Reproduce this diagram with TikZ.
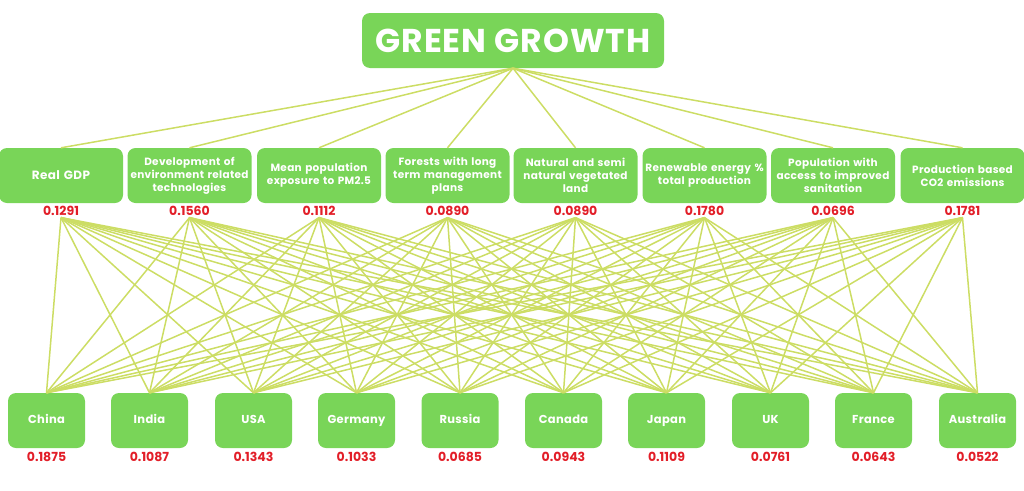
\documentclass[tikz,border=0pt]{standalone}
\usepackage{fontspec}
\setmainfont{Poppins}[LetterSpace=3]
\newfontfamily\valfont{Poppins}
\definecolor{boxgreen}{RGB}{121,213,88}
\definecolor{linkc}{RGB}{204,221,100}
\definecolor{valred}{RGB}{226,30,40}
\tikzset{
  gbox/.style={fill=boxgreen, rounded corners=8pt, text=white, font=\bfseries\fontsize{10.5}{13}\selectfont, align=center, inner sep=0pt},
  crit/.style={gbox, minimum width=120pt, minimum height=55pt, text width=124pt},
  ctry/.style={gbox, minimum width=77pt, minimum height=55pt, font=\bfseries\fontsize{11.5}{13}\selectfont, text height=8.5pt, text depth=2.5pt},
  val/.style={text=valred, font=\valfont\bfseries\fontsize{12.5}{13}\selectfont, inner sep=1pt},
  link/.style={draw=linkc, line width=1.5pt}
}
\begin{document}
\begin{tikzpicture}[x=1pt,y=-1pt]
\useasboundingbox (0,0) rectangle (1024,490);
\node[gbox, minimum width=302pt, minimum height=55pt, font=\bfseries\fontsize{33}{36}\selectfont] (goal) at (513,40.5) {GREEN GROWTH};
% criteria
\node[crit, font=\bfseries\fontsize{12}{13}\selectfont] (c1) at (61,175.5) {Real GDP};
\node[crit] (c2) at (189.5,175.5) {Development of\\environment related\\technologies};
\node[crit] (c3) at (319,175.5) {Mean population\\exposure to PM2.5};
\node[crit] (c4) at (447.5,175.5) {Forests with long\\term management\\plans};
\node[crit] (c5) at (575.5,175.5) {Natural and semi\\natural vegetated\\land};
\node[crit] (c6) at (704.5,175.5) {Renewable energy \%\\total production};
\node[crit] (c7) at (833,175.5) {Population with\\access to improved\\sanitation};
\node[crit] (c8) at (962.5,175.5) {Production based\\CO2 emissions};
\foreach \i/\v in {1/0.1291,2/0.1560,3/0.1112,4/0.0890,5/0.0890,6/0.1780,7/0.0696,8/0.1781}{
  \node[val] (w\i) at ([yshift=-7.5pt]c\i.south) {\v};
  \coordinate (t\i) at ([yshift=-1pt]w\i.south);
}
% countries
\node[ctry] (a1) at (46.5,420.5) {China};
\node[ctry] (a2) at (149.5,420.5) {India};
\node[ctry] (a3) at (253.5,420.5) {USA};
\node[ctry] (a4) at (356.5,420.5) {Germany};
\node[ctry] (a5) at (460,420.5) {Russia};
\node[ctry] (a6) at (563.5,420.5) {Canada};
\node[ctry] (a7) at (666.5,420.5) {Japan};
\node[ctry] (a8) at (770.5,420.5) {UK};
\node[ctry] (a9) at (873.5,420.5) {France};
\node[ctry] (a10) at (977.5,420.5) {Australia};
\foreach \j/\v in {1/0.1875,2/0.1087,3/0.1343,4/0.1033,5/0.0685,6/0.0943,7/0.1109,8/0.0761,9/0.0643,10/0.0522}{
  \node[val] (u\j) at ([yshift=-9pt]a\j.south) {\v};
}
% links
\foreach \i in {1,...,8}{
  \draw[link] (goal.south) -- (c\i.north);
  \foreach \j in {1,...,10}{
    \draw[link] (t\i) -- (a\j.north);
  }
}
\end{tikzpicture}
\end{document}
